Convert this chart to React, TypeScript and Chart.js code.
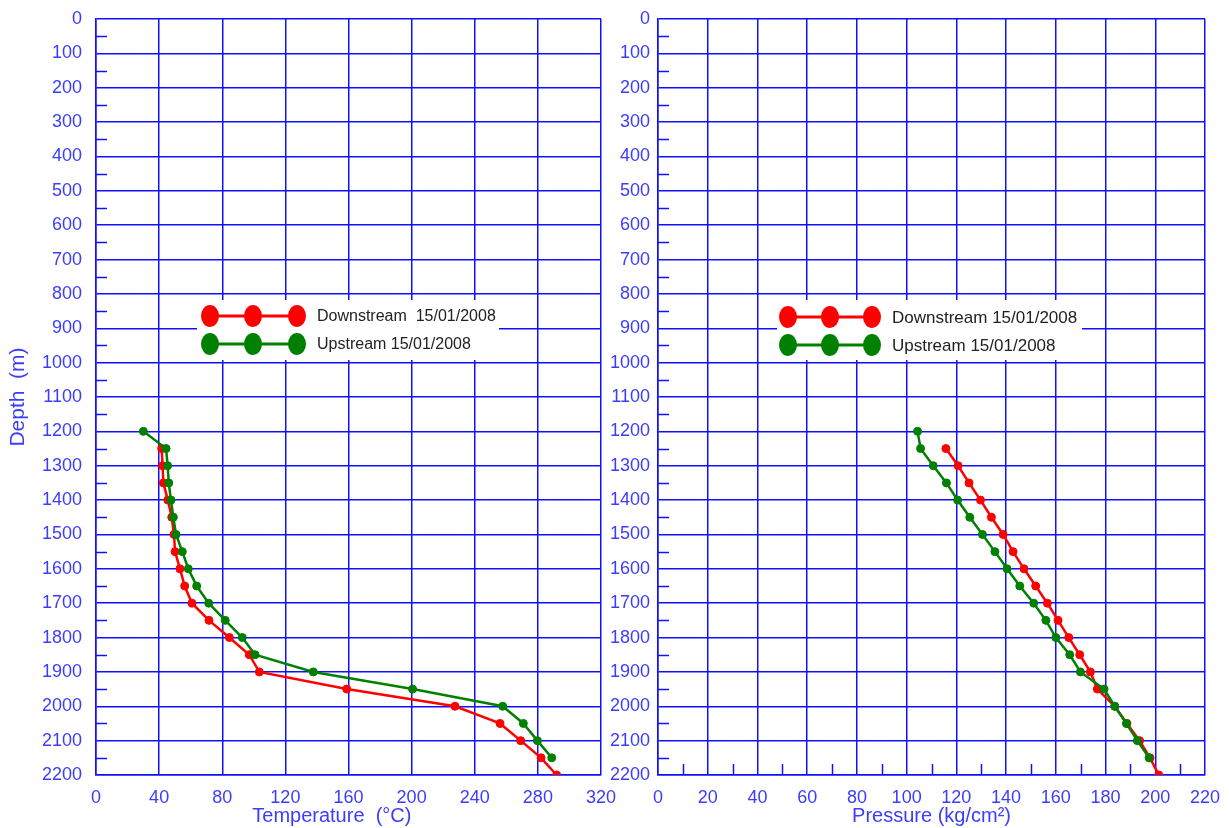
import React, { useEffect, useRef } from 'react';
import { Chart, registerables } from 'chart.js';
Chart.register(...registerables);

// ---- data ----
const depthTicks = [0, 100, 200, 300, 400, 500, 600, 700, 800, 900, 1000, 1100, 1200, 1300, 1400, 1500, 1600, 1700, 1800, 1900, 2000, 2100, 2200];
const depthMinor = [50, 150, 250, 350, 450, 550, 650, 750, 850, 950, 1050, 1150, 1250, 1350, 1450, 1550, 1650, 1750, 1850, 1950, 2050, 2150];
const tempTicks = [0, 40, 80, 120, 160, 200, 240, 280, 320];
const pressTicks = [0, 20, 40, 60, 80, 100, 120, 140, 160, 180, 200, 220];
const pressMinor = [10, 30, 50, 70, 90, 110, 130, 150, 170, 190, 210];

const upDepth = [1200, 1250, 1300, 1350, 1400, 1450, 1500, 1550, 1600, 1650, 1700, 1750, 1800, 1850, 1900, 1950, 2000, 2050, 2100, 2150];
const downDepth = [1250, 1300, 1350, 1400, 1450, 1500, 1550, 1600, 1650, 1700, 1750, 1800, 1850, 1900, 1950, 2000, 2050, 2100, 2150, 2200];

const upTemp = [30, 44.4, 45.4, 46.1, 47.5, 49, 50.7, 54.7, 58.5, 63.8, 71.4, 81.9, 92.7, 100.8, 137.7, 200.6, 257.7, 270.8, 279.7, 288.8];
const downTemp = [41.6, 42.2, 42.7, 45.5, 48, 49.4, 50.1, 53.2, 56.2, 60.8, 71.6, 84.5, 97.1, 103.5, 158.9, 227.5, 256, 269.1, 282, 291.9];

const upPress = [104.4, 105.6, 110.7, 116, 120.5, 125.4, 130.5, 135.5, 140.4, 145.5, 151.1, 156, 160, 165.6, 169.9, 179.4, 183.7, 188.4, 192.8, 197.5];
const downPress = [115.8, 120.7, 125.1, 129.7, 134.1, 138.8, 142.8, 147.2, 151.9, 156.6, 160.9, 165.2, 169.6, 173.9, 176.7, 183.7, 188.6, 193.7, 197.9, 201.4];

const labelDownT = 'Downstream  15/01/2008';
const labelUpT = 'Upstream 15/01/2008';
const labelDownP = 'Downstream 15/01/2008';
const labelUpP = 'Upstream 15/01/2008';

// ---- styles ----
const RED = '#ff0000';
const GREEN = '#008000';
const GRID = '#1010ff';
const LABEL = '#3c3cff';
const FONT = "'Liberation Sans', Arial, sans-serif";
const CLEAR = 'rgba(0,0,0,0)';

const minorTicks = {
  id: 'minorTicks',
  beforeDatasetsDraw(chart: any, _a: any, opts: any) {
    const ctx = chart.ctx;
    const { left, bottom } = chart.chartArea;
    ctx.save();
    ctx.strokeStyle = opts.color;
    ctx.lineWidth = opts.width;
    (opts.y || []).forEach((v: number) => {
      const py = Math.round(chart.scales.y.getPixelForValue(v)) + 0.5;
      ctx.beginPath();
      ctx.moveTo(left, py);
      ctx.lineTo(left + opts.len, py);
      ctx.stroke();
    });
    (opts.x || []).forEach((v: number) => {
      const px = Math.round(chart.scales.x.getPixelForValue(v)) + 0.5;
      ctx.beginPath();
      ctx.moveTo(px, bottom);
      ctx.lineTo(px, bottom - opts.len);
      ctx.stroke();
    });
    ctx.restore();
  },
};

const boxLegend = {
  id: 'boxLegend',
  afterDraw(chart: any, _a: any, opts: any) {
    const ctx = chart.ctx;
    ctx.save();
    ctx.fillStyle = '#ffffff';
    ctx.fillRect(opts.box.x, opts.box.y, opts.box.w, opts.box.h);
    const items = opts.order.map((i: number) => chart.data.datasets[i]);
    items.forEach((ds: any, k: number) => {
      const y = opts.rowsY[k];
      const xs = opts.markersX;
      ctx.strokeStyle = ds.borderColor;
      ctx.lineWidth = 3;
      ctx.beginPath();
      ctx.moveTo(xs[0], y);
      ctx.lineTo(xs[xs.length - 1], y);
      ctx.stroke();
      ctx.fillStyle = ds.borderColor;
      xs.forEach((x: number) => {
        ctx.beginPath();
        ctx.ellipse(x, y, 9, 11, 0, 0, Math.PI * 2);
        ctx.fill();
      });
      ctx.fillStyle = '#222222';
      ctx.font = `${opts.fontSize}px ${FONT}`;
      ctx.textBaseline = 'middle';
      ctx.textAlign = 'left';
      ctx.fillText(ds.label, opts.textX, y + 1);
    });
    ctx.restore();
  },
};

function makeScales(xTicks: number[], xMax: number, xTitle: string, yTitle: string | null, yWidth: number, yGap: number) {
  return {
    x: {
      type: 'linear',
      min: 0,
      max: xMax,
      afterBuildTicks: (s: any) => { s.ticks = xTicks.map((v) => ({ value: v })); },
      afterFit: (s: any) => { s.height = 53; },
      grid: { color: GRID, lineWidth: 1.5, drawTicks: true, tickLength: 12, tickColor: CLEAR },
      border: { color: GRID, width: 1.5 },
      ticks: { color: LABEL, font: { family: FONT, size: 18 }, padding: 0, maxRotation: 0, autoSkip: false, callback: (v: any) => String(v) },
      title: { display: true, text: xTitle, color: LABEL, font: { family: FONT, size: 20 }, padding: { top: 0, bottom: 0 } },
    },
    y: {
      type: 'linear',
      reverse: true,
      min: 0,
      max: 2200,
      afterBuildTicks: (s: any) => { s.ticks = depthTicks.map((v) => ({ value: v })); },
      afterFit: (s: any) => { s.width = yWidth; },
      grid: { color: GRID, lineWidth: 1.5, drawTicks: true, tickLength: yGap, tickColor: CLEAR },
      border: { color: GRID, width: 1.5 },
      ticks: { color: LABEL, font: { family: FONT, size: 18 }, padding: 0, autoSkip: false, callback: (v: any) => String(v) },
      title: yTitle
        ? { display: true, text: yTitle, color: LABEL, font: { family: FONT, size: 21 }, padding: { top: 6, bottom: 0 } }
        : { display: false },
    },
  };
}

function ds(label: string, xs: number[], ys: number[], color: string, order: number) {
  return {
    label,
    data: xs.map((x, i) => ({ x, y: ys[i] })),
    borderColor: color,
    backgroundColor: color,
    borderWidth: 2.5,
    pointRadius: 4,
    pointBorderWidth: 1,
    pointHoverRadius: 4,
    showLine: true,
    order,
  };
}

export default function App() {
  const leftRef = useRef<HTMLCanvasElement>(null);
  const rightRef = useRef<HTMLCanvasElement>(null);

  useEffect(() => {
    const left = new Chart(leftRef.current as HTMLCanvasElement, {
      type: 'scatter',
      data: {
        datasets: [
          ds(labelDownT, downTemp, downDepth, RED, 1),
          ds(labelUpT, upTemp, upDepth, GREEN, 0),
        ],
      },
      options: {
        responsive: false,
        animation: false,
        devicePixelRatio: 1,
        layout: { padding: { left: 0, top: 19, right: 19, bottom: 0 } },
        scales: makeScales(tempTicks, 320, 'Temperature  (°C)      ', 'Depth  (m)', 96, 14) as any,
        plugins: {
          legend: { display: false },
          tooltip: { enabled: false },
          minorTicks: { y: depthMinor, x: [], len: 11, color: GRID, width: 1.5 },
          boxLegend: {
            order: [0, 1],
            box: { x: 197, y: 300, w: 302, h: 60 },
            markersX: [210, 253, 297],
            rowsY: [316, 344],
            textX: 317,
            fontSize: 16,
          },
        } as any,
      },
      plugins: [minorTicks, boxLegend],
    });

    const right = new Chart(rightRef.current as HTMLCanvasElement, {
      type: 'scatter',
      data: {
        datasets: [
          ds(labelDownP, downPress, downDepth, RED, 1),
          ds(labelUpP, upPress, upDepth, GREEN, 0),
        ],
      },
      options: {
        responsive: false,
        animation: false,
        devicePixelRatio: 1,
        layout: { padding: { left: 0, top: 19, right: 24, bottom: 0 } },
        scales: makeScales(pressTicks, 220, 'Pressure (kg/cm²)', null, 58, 8) as any,
        plugins: {
          legend: { display: false },
          tooltip: { enabled: false },
          minorTicks: { y: depthMinor, x: pressMinor, len: 11, color: GRID, width: 1.5 },
          boxLegend: {
            order: [0, 1],
            box: { x: 177, y: 300, w: 305, h: 60 },
            markersX: [188, 230, 272],
            rowsY: [317, 345],
            textX: 292,
            fontSize: 17,
          },
        } as any,
      },
      plugins: [minorTicks, boxLegend],
    });

    return () => {
      left.destroy();
      right.destroy();
    };
  }, []);

  return (
    <div style={{ position: 'absolute', left: 0, top: 0, width: 1229, height: 828, background: '#ffffff', overflow: 'hidden' }}>
      <canvas ref={leftRef} width={620} height={828} style={{ position: 'absolute', left: 0, top: 0, width: 620, height: 828 }} />
      <canvas ref={rightRef} width={629} height={828} style={{ position: 'absolute', left: 600, top: 0, width: 629, height: 828 }} />
    </div>
  );
}
